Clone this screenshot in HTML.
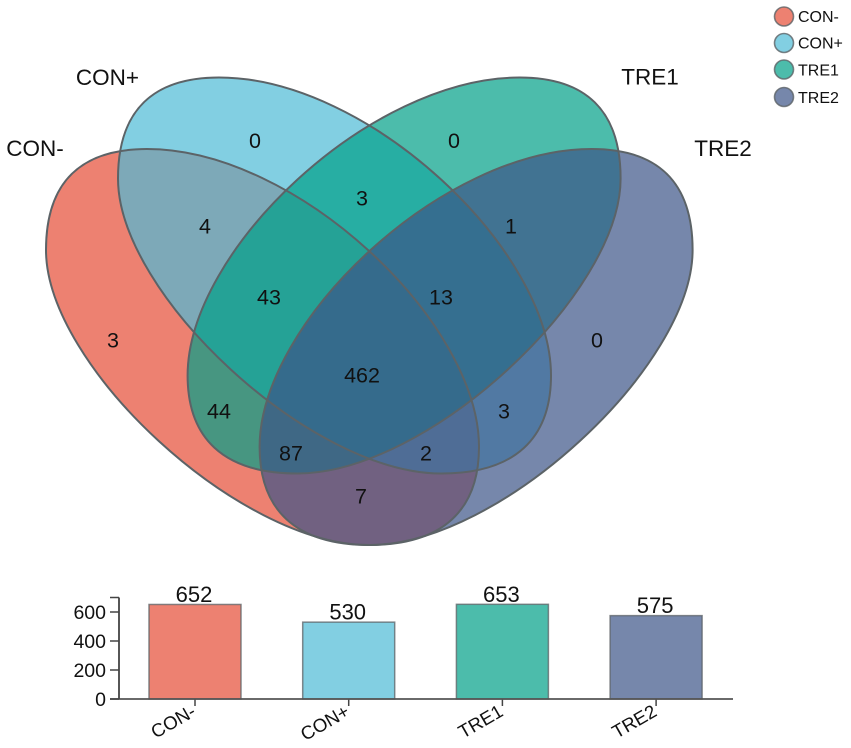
<!DOCTYPE html>
<html>
<head>
<meta charset="utf-8">
<style>
html,body{margin:0;padding:0;background:#fff;width:851px;height:748px;overflow:hidden}
svg{display:block;filter:blur(0.35px)}
text{font-family:"Liberation Sans",sans-serif;fill:#111}
</style>
</head>
<body>
<svg id="chart" width="851" height="748" viewBox="0 0 851 748" xmlns="http://www.w3.org/2000/svg">
<defs>
<path id="petal" d="M46 250 C46 182 81 149 147 149 C297 149 479 322 479 447 C479 509 444 545 369 545 C239 545 46 366 46 250 Z"/>
</defs>
<g fill-opacity="0.7">
<use href="#petal" fill="#E64B35"/>
<use href="#petal" transform="translate(72 -71.5)" fill="#4DBBD5"/>
<use href="#petal" transform="translate(738.6 0) scale(-1 1) translate(72 -71.5)" fill="#00A087"/>
<use href="#petal" transform="translate(738.6 0) scale(-1 1)" fill="#3C5488"/>
</g>
<g fill="none" stroke="#5c6367" stroke-width="2">
<use href="#petal"/>
<use href="#petal" transform="translate(72 -71.5)"/>
<use href="#petal" transform="translate(738.6 0) scale(-1 1) translate(72 -71.5)"/>
<use href="#petal" transform="translate(738.6 0) scale(-1 1)"/>
</g>
<g font-size="22.5" text-anchor="middle">
<text x="35" y="156">CON-</text>
<text x="107.5" y="85">CON+</text>
<text x="650" y="84.5">TRE1</text>
<text x="723" y="156">TRE2</text>
</g>
<g font-size="21.5" text-anchor="middle">
<text x="255" y="148">0</text>
<text x="454" y="148">0</text>
<text x="362" y="205.5">3</text>
<text x="205" y="233.5">4</text>
<text x="511" y="233.5">1</text>
<text x="269" y="304.5">43</text>
<text x="441" y="304.5">13</text>
<text x="113" y="347.5">3</text>
<text x="597" y="347.5">0</text>
<text x="362" y="382.5">462</text>
<text x="219" y="418.5">44</text>
<text x="504" y="418.5">3</text>
<text x="291" y="460.5">87</text>
<text x="426" y="460.5">2</text>
<text x="361" y="503.5">7</text>
</g>
<g font-size="16">
<g><circle cx="784" cy="16.5" r="9.5" fill="#E64B35" fill-opacity="0.7" stroke="#5c6367" stroke-opacity="0.8" stroke-width="1.6"/><text x="798" y="22">CON-</text></g>
<g><circle cx="784" cy="43" r="9.5" fill="#4DBBD5" fill-opacity="0.7" stroke="#5c6367" stroke-opacity="0.8" stroke-width="1.6"/><text x="798" y="48.5">CON+</text></g>
<g><circle cx="784" cy="69.5" r="9.5" fill="#00A087" fill-opacity="0.7" stroke="#5c6367" stroke-opacity="0.8" stroke-width="1.6"/><text x="798" y="75.5">TRE1</text></g>
<g><circle cx="784" cy="97" r="9.5" fill="#3C5488" fill-opacity="0.7" stroke="#5c6367" stroke-opacity="0.8" stroke-width="1.6"/><text x="798" y="103">TRE2</text></g>
</g>
<g id="bar-chart"></g>
</svg>
<script>
const categories = ['CON-', 'CON+', 'TRE1', 'TRE2'];
const setSizes = [652, 530, 653, 575];
const yTicks = [0, 200, 400, 600];
const barColors = ['#E64B35', '#4DBBD5', '#00A087', '#3C5488'];

const NS = 'http://www.w3.org/2000/svg';
const root = document.getElementById('bar-chart');
const baseY = 699;
const pxPerUnit = 0.145;
const firstCenter = 195;
const step = 153.7;
const barWidth = 92;
const yScale = v => baseY - v * pxPerUnit;
const xScale = i => firstCenter + i * step;

function add(tag, attrs, text) {
  const el = document.createElementNS(NS, tag);
  for (const k in attrs) el.setAttribute(k, attrs[k]);
  if (text !== undefined) el.textContent = text;
  root.appendChild(el);
  return el;
}

setSizes.forEach((v, i) => {
  const bar = add('rect', {x: xScale(i) - barWidth / 2, y: yScale(v), width: barWidth, height: baseY - yScale(v), fill: barColors[i], 'fill-opacity': 0.7, stroke: '#5c6367', 'stroke-opacity': 0.75, 'stroke-width': 1.5});
  
  
  const val = add('text', {x: xScale(i) - 1, y: yScale(v) - 2.5, 'font-size': 22, 'text-anchor': 'middle'}, v);
  
  
  const tick = add('line', {x1: xScale(i), x2: xScale(i), y1: baseY, y2: baseY + 7, stroke: '#444', 'stroke-width': 1.5});
  
  
  const lx = xScale(i) + 2, ly = baseY + 16;
  const lab = add('text', {x: lx, y: ly, 'font-size': 18.7, 'text-anchor': 'end', transform: 'rotate(-30 ' + lx + ' ' + ly + ')'}, categories[i]);
  
  
});

const xAxis = add('line', {x1: 110, x2: 733, y1: baseY, y2: baseY, stroke: '#555', 'stroke-width': 1.8});


const yAxis = add('line', {x1: 119, x2: 119, y1: yScale(700), y2: baseY, stroke: '#444', 'stroke-width': 1.8});


const topTick = add('line', {x1: 110, x2: 119, y1: yScale(700), y2: yScale(700), stroke: '#444', 'stroke-width': 1.5});



yTicks.forEach(t => {
  const tk = add('line', {x1: 110, x2: 119, y1: yScale(t), y2: yScale(t), stroke: '#444', 'stroke-width': 1.5});
  
  
  const lb = add('text', {x: 106, y: yScale(t) + 7, 'font-size': 19.5, 'text-anchor': 'end'}, t);
  
  
});
</script>
</body>
</html>
